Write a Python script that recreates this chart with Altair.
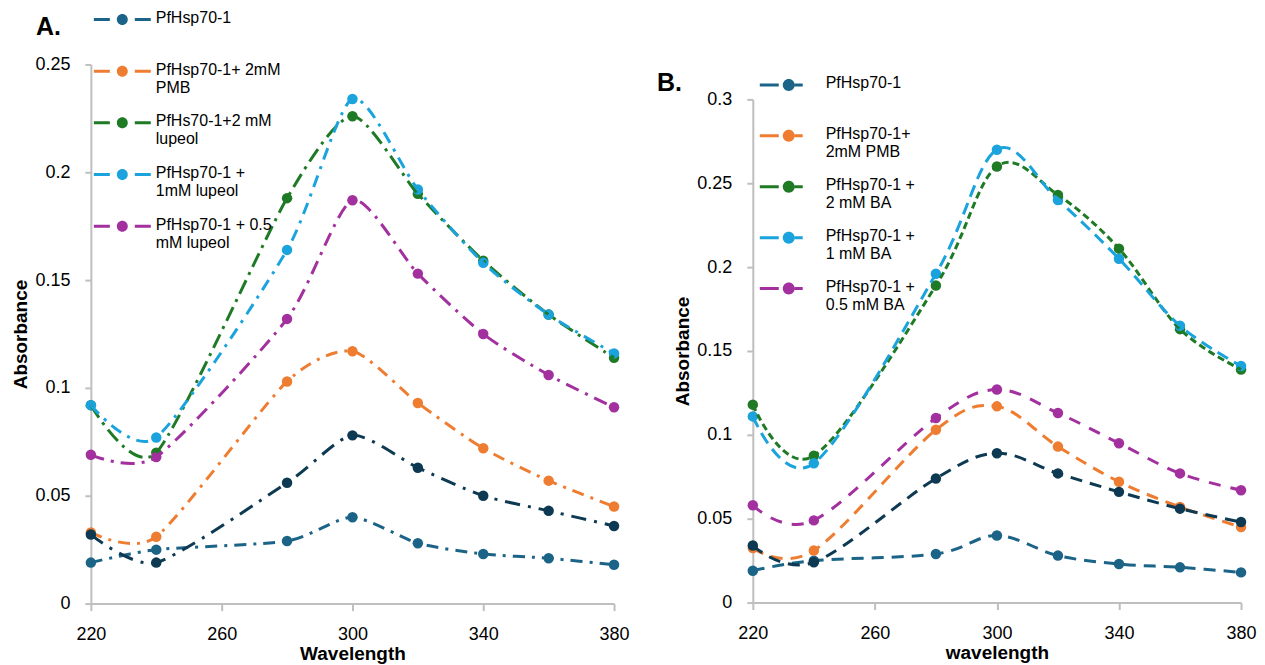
import altair as alt
import pandas as pd

wavelength = [220, 240, 280, 300, 320, 340, 360, 380]

# ---- Panel A ----
a_names = ["PfHsp70-1", "PfHsp70-1+ 2mM|PMB", "PfHs70-1+2 mM|lupeol",
           "PfHsp70-1 +|1mM lupeol", "PfHsp70-1 + 0.5|mM lupeol"]
a_pf = [0.019, 0.025, 0.029, 0.040, 0.028, 0.023, 0.021, 0.018]
a_pmb = [0.033, 0.031, 0.103, 0.117, 0.093, 0.072, 0.057, 0.045]
a_lup2 = [0.092, 0.070, 0.188, 0.226, 0.190, 0.159, 0.134, 0.114]
a_lup1 = [0.092, 0.077, 0.164, 0.234, 0.192, 0.158, 0.134, 0.116]
a_lup05 = [0.069, 0.068, 0.132, 0.187, 0.153, 0.125, 0.106, 0.091]
a_extra = [0.032, 0.019, 0.056, 0.078, 0.063, 0.050, 0.043, 0.036]

# ---- Panel B ----
b_names = ["PfHsp70-1", "PfHsp70-1+|2mM PMB", "PfHsp70-1 +|2 mM BA",
           "PfHsp70-1 +|1 mM BA", "PfHsp70-1 +|0.5 mM BA"]
b_pf = [0.019, 0.025, 0.029, 0.040, 0.028, 0.023, 0.021, 0.018]
b_pmb = [0.0325, 0.031, 0.103, 0.117, 0.093, 0.072, 0.057, 0.045]
b_ba2 = [0.118, 0.0875, 0.189, 0.260, 0.243, 0.211, 0.163, 0.139]
b_ba1 = [0.111, 0.083, 0.196, 0.270, 0.240, 0.205, 0.165, 0.141]
b_ba05 = [0.058, 0.049, 0.110, 0.127, 0.113, 0.095, 0.077, 0.067]
b_extra = [0.034, 0.024, 0.074, 0.089, 0.077, 0.066, 0.056, 0.048]

colors = ["#1B6487", "#EE7D31", "#1F7A25", "#1AA3DD", "#A2309E"]
extra_color = "#0D3A52"
x_ticks = [220, 260, 300, 340, 380]

FONT = "Liberation Sans"


def long_df(names, series):
    rows = []
    for n, vals in zip(names, series):
        for w, v in zip(wavelength, vals):
            rows.append({"series": n, "wavelength": w, "absorbance": v})
    return pd.DataFrame(rows)


def symbol_path(x0, xc1, xc2, x1, cx, r, oy, t):
    return (f"M{x0},{oy - t}H{xc1}V{oy + t}H{x0}Z"
            f"M{xc2},{oy - t}H{x1}V{oy + t}H{xc2}Z"
            f"M{cx - r},{oy}A{r},{r},0,1,1,{cx + r},{oy}"
            f"A{r},{r},0,1,1,{cx - r},{oy}Z")


def panel(names, series, extra, dashes, extra_dash, ymax, yticks, width, height,
          xtitle, legend_kw, title_kw, tension):
    df = long_df(names, series)
    df_extra = long_df(["extra"], [extra])
    xenc = alt.X("wavelength:Q", scale=alt.Scale(domain=[220, 380], nice=False),
                 axis=alt.Axis(values=x_ticks, title=xtitle, tickSize=7,
                               labelPadding=15, titlePadding=1, labelFlush=False))
    yenc = alt.Y("absorbance:Q", scale=alt.Scale(domain=[0, ymax], nice=False),
                 axis=alt.Axis(values=yticks, title="Absorbance", tickSize=6,
                               labelPadding=15, titlePadding=4, labelFlush=False,
                               format="~g"))
    color = alt.Color("series:N", scale=alt.Scale(domain=names, range=colors),
                      legend=alt.Legend(**legend_kw))
    dash = alt.StrokeDash("series:N", scale=alt.Scale(domain=names, range=dashes),
                          legend=None)
    base = alt.Chart(df)
    ext = alt.Chart(df_extra)
    ext_line = ext.mark_line(interpolate="cardinal", tension=tension, strokeWidth=3,
                             color=extra_color, strokeDash=extra_dash,
                             strokeCap="butt").encode(x=xenc, y=yenc)
    ext_pts = ext.mark_point(filled=True, size=110, opacity=1,
                             color=extra_color).encode(x=xenc, y=yenc)
    lines = base.mark_line(interpolate="cardinal", tension=tension, strokeWidth=3,
                           strokeCap="butt").encode(
        x=xenc, y=yenc, color=color, strokeDash=dash, detail="series:N")
    pts = base.mark_point(filled=True, size=110, opacity=1).encode(
        x=xenc, y=yenc, color=color)
    return alt.layer(pts, lines, ext_line, ext_pts).properties(
        width=width, height=height, title=alt.TitleParams(**title_kw))


common_legend = dict(orient="none", legendX=0, title=None, symbolSize=400,
                     symbolStrokeWidth=0, labelFont=FONT, labelFontSize=16,
                     labelColor="#000000", labelLimit=0, labelBaseline="top",
                     labelExpr="split(datum.label, '|')", gridAlign="all",
                     padding=0, symbolOpacity=1)

legA = dict(common_legend)
legA.update(legendY=-64.5, symbolOffset=21.5, labelOffset=23.5, rowPadding=7.75,
            symbolType=symbol_path(-2.85, -1.25, 1.25, 2.85, 0, 0.55, 0.95, 0.15))
legB = dict(common_legend)
legB.update(legendY=1.0, symbolOffset=26, labelOffset=27, rowPadding=7,
            symbolType=symbol_path(-2.9, -1.0, 0.6, 1.4, 0, 0.6, 0.95, 0.15))

titleA = dict(text="A.", anchor="start", frame="group", fontSize=25,
              fontWeight="bold", font=FONT, color="#000000", baseline="alphabetic",
              dx=-55, offset=-60.5)
titleB = dict(text="B.", anchor="start", frame="group", fontSize=25,
              fontWeight="bold", font=FONT, color="#000000", baseline="alphabetic",
              dx=-96, offset=-25.2)

dash_a = [[12, 7, 3, 7], [12, 7, 3, 7], [15, 6, 3, 6], [12, 7, 3, 7], [14, 7, 3, 7]]
dash_b = [[12, 8], [12, 8], [7, 4], [12, 7], [12, 10]]

chartA = panel(names=a_names, series=[a_pf, a_pmb, a_lup2, a_lup1, a_lup05],
               extra=a_extra, dashes=dash_a, extra_dash=[15, 8, 3, 8],
               ymax=0.25, yticks=[0, 0.05, 0.1, 0.15, 0.2, 0.25],
               width=524, height=540, xtitle="Wavelength",
               legend_kw=legA, title_kw=titleA, tension=0.3)
chartB = panel(names=b_names, series=[b_pf, b_pmb, b_ba2, b_ba1, b_ba05],
               extra=b_extra, dashes=dash_b, extra_dash=[12, 8],
               ymax=0.3, yticks=[0, 0.05, 0.1, 0.15, 0.2, 0.25, 0.3],
               width=489, height=504, xtitle="wavelength",
               legend_kw=legB, title_kw=titleB, tension=0)

spacer = alt.Chart(pd.DataFrame({"v": [0]})).mark_point(opacity=0).encode(
    x=alt.X("v:Q", axis=None), y=alt.Y("v:Q", axis=None)
).properties(width=489, height=35)

colB = alt.vconcat(spacer, chartB, spacing=0, bounds="flush")

chart = alt.hconcat(chartA, colB, spacing=139, bounds="flush").resolve_scale(
    color="independent", strokeDash="independent", x="independent",
    y="independent"
).resolve_legend(color="independent", strokeDash="independent").properties(
    padding={"left": 3, "top": -9, "right": 0, "bottom": 0}
).configure_view(stroke=None).configure_axis(
    grid=False, domainColor="#BFBFBF", domainWidth=2, tickColor="#BFBFBF",
    tickWidth=2, labelFont=FONT, labelFontSize=18, labelColor="#000000",
    titleFont=FONT, titleFontSize=19, titleFontWeight="bold", titleColor="#000000"
)

chart.save("out.html", embed_options={"renderer": "svg", "actions": False})
